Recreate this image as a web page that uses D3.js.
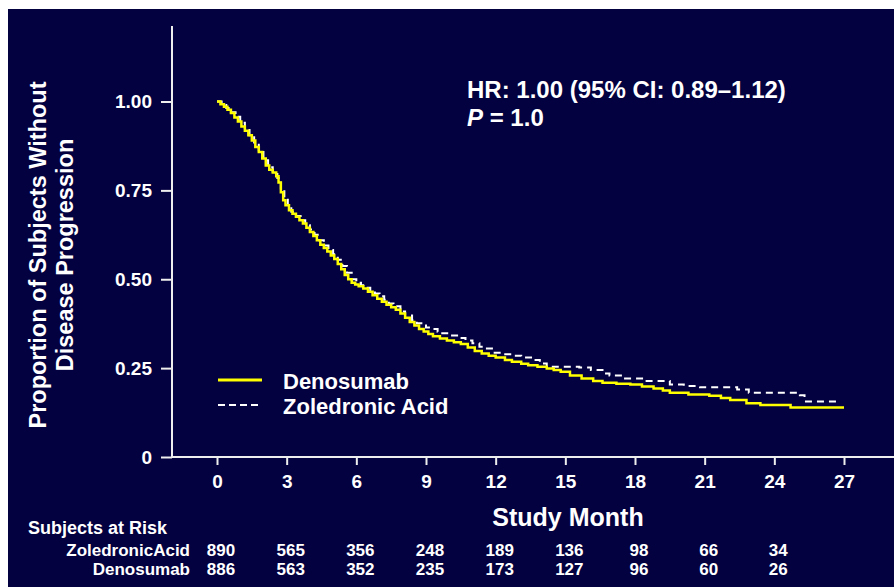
<!DOCTYPE html>
<html>
<head>
<meta charset="utf-8">
<script src="https://cdn.jsdelivr.net/npm/d3@7"></script>
<style>
  body { margin: 0; background: #ffffff; }
  text { font-family: "Liberation Sans", Arial, sans-serif; font-weight: bold; fill: #ffffff; }
</style>
</head>
<body>
<div id="chart"></div>
<script>
// KM curves (month, proportion)
var denoMonths = [0, 0.15, 0.3, 0.45, 0.6, 0.75, 0.9, 1.05, 1.2, 1.35, 1.5, 1.65, 1.8, 1.95, 2.1, 2.25, 2.4, 2.55, 2.65, 2.75, 2.85, 2.95, 3.1, 3.25, 3.4, 3.55, 3.7, 3.85, 4.0, 4.15, 4.3, 4.45, 4.6, 4.75, 4.9, 5.05, 5.2, 5.35, 5.5, 5.65, 5.8, 5.95, 6.1, 6.3, 6.5, 6.7, 6.9, 7.1, 7.3, 7.5, 7.7, 7.9, 8.1, 8.3, 8.5, 8.7, 8.9, 9.1, 9.3, 9.6, 9.9, 10.2, 10.5, 10.8, 11.1, 11.4, 11.7, 12.0, 12.4, 12.7, 13.1, 13.4, 13.8, 14.2, 14.5, 14.8, 15.2, 15.7, 16.2, 16.6, 17.2, 17.8, 18.3, 18.8, 19.2, 19.5, 20.3, 21.2, 21.7, 22.1, 22.8, 23.4, 24.7, 27.0];
var denoSurv = [1.000, 0.992, 0.985, 0.977, 0.968, 0.955, 0.944, 0.930, 0.918, 0.905, 0.890, 0.872, 0.858, 0.840, 0.820, 0.808, 0.800, 0.790, 0.772, 0.745, 0.722, 0.708, 0.694, 0.684, 0.676, 0.666, 0.657, 0.645, 0.633, 0.622, 0.610, 0.597, 0.588, 0.578, 0.567, 0.557, 0.543, 0.528, 0.512, 0.500, 0.490, 0.485, 0.480, 0.474, 0.465, 0.455, 0.445, 0.437, 0.428, 0.421, 0.414, 0.404, 0.392, 0.380, 0.370, 0.360, 0.353, 0.346, 0.340, 0.333, 0.328, 0.323, 0.318, 0.308, 0.298, 0.291, 0.285, 0.280, 0.273, 0.268, 0.262, 0.258, 0.254, 0.249, 0.245, 0.240, 0.229, 0.221, 0.214, 0.209, 0.206, 0.204, 0.198, 0.193, 0.187, 0.181, 0.176, 0.172, 0.166, 0.160, 0.151, 0.146, 0.139, 0.139];

var zaMonths = [0, 0.2, 0.4, 0.6, 0.8, 1.0, 1.2, 1.4, 1.6, 1.8, 2.0, 2.2, 2.4, 2.6, 2.75, 2.9, 3.05, 3.2, 3.4, 3.6, 3.8, 4.0, 4.2, 4.4, 4.6, 4.8, 5.0, 5.2, 5.4, 5.6, 5.8, 6.0, 6.2, 6.4, 6.6, 6.8, 7.0, 7.2, 7.4, 7.6, 7.9, 8.1, 8.4, 8.6, 8.8, 9.0, 9.2, 9.5, 9.7, 10.0, 10.4, 10.7, 11.0, 11.3, 11.5, 11.9, 12.3, 12.7, 13.1, 13.6, 13.9, 14.2, 15.6, 16.1, 16.6, 16.9, 17.5, 18.5, 19.5, 20.1, 20.8, 22.4, 22.9, 25.1, 25.3, 26.8];
var zaSurv = [1.000, 0.990, 0.982, 0.970, 0.957, 0.940, 0.925, 0.905, 0.885, 0.862, 0.835, 0.815, 0.803, 0.785, 0.755, 0.728, 0.705, 0.690, 0.678, 0.666, 0.652, 0.640, 0.625, 0.610, 0.595, 0.582, 0.570, 0.555, 0.537, 0.518, 0.500, 0.490, 0.483, 0.476, 0.468, 0.460, 0.452, 0.442, 0.432, 0.424, 0.409, 0.398, 0.385, 0.376, 0.370, 0.364, 0.360, 0.352, 0.348, 0.342, 0.335, 0.328, 0.320, 0.310, 0.305, 0.293, 0.289, 0.285, 0.280, 0.273, 0.263, 0.254, 0.252, 0.245, 0.235, 0.229, 0.221, 0.214, 0.204, 0.200, 0.196, 0.190, 0.181, 0.174, 0.156, 0.156];

var xTicks = [0, 3, 6, 9, 12, 15, 18, 21, 24, 27];
var yTicks = [0, 0.25, 0.5, 0.75, 1.0];
var yTickLabels = ["0", "0.25", "0.50", "0.75", "1.00"];

var riskMonths = [0, 3, 6, 9, 12, 15, 18, 21, 24];
var riskZA = [890, 565, 356, 248, 189, 136, 98, 66, 34];
var riskDeno = [886, 563, 352, 235, 173, 127, 96, 60, 26];

var width = 894;
var height = 587;
var navy = "#03013f";

var svg = d3.select("#chart")
  .append("svg")
  .attr("width", width)
  .attr("height", height);

// slide background (white sliver at top/left like the screenshot)
svg.append("rect")
  .attr("x", 8).attr("y", 9)
  .attr("width", width - 8).attr("height", height - 9)
  .attr("fill", navy);

var xscale = d3.scaleLinear().domain([0, 27]).range([217, 844]);
var yscale = d3.scaleLinear().domain([0, 1]).range([457, 101.5]);
var axisX = 172;

// y axis
var yAxis = d3.axisLeft(yscale)
  .tickValues(yTicks)
  .tickFormat(function(d, i) { return yTickLabels[i]; })
  .tickSize(11)
  .tickPadding(9);

var gy = svg.append("g")
  .attr("class", "yAxis")
  .attr("transform", "translate(" + axisX + ",0)")
  .call(yAxis);
gy.select(".domain").remove();
gy.selectAll("line").attr("stroke", "#eeeeee").attr("stroke-width", 2);
gy.selectAll("text").attr("font-size", 19).attr("fill", "#ffffff").attr("font-family", null);

svg.append("line")
  .attr("x1", axisX).attr("x2", axisX)
  .attr("y1", 26).attr("y2", yscale(0) + 1)
  .attr("stroke", "#eeeeee").attr("stroke-width", 2);

// x axis
var xAxis = d3.axisBottom(xscale)
  .tickValues(xTicks)
  .tickSize(8)
  .tickPadding(10);

var gx = svg.append("g")
  .attr("class", "xAxis")
  .attr("transform", "translate(0," + yscale(0) + ")")
  .call(xAxis);
gx.select(".domain").remove();
gx.selectAll("line").attr("stroke", "#eeeeee").attr("stroke-width", 2);
gx.selectAll("text").attr("font-size", 19).attr("fill", "#ffffff").attr("font-family", null);

svg.append("line")
  .attr("x1", axisX - 1).attr("x2", width)
  .attr("y1", yscale(0)).attr("y2", yscale(0))
  .attr("stroke", "#eeeeee").attr("stroke-width", 2);

// curves
var line = d3.line()
  .x(function(d) { return xscale(d[0]); })
  .y(function(d) { return yscale(d[1]); })
  .curve(d3.curveStepAfter);

var zaData = zaMonths.map(function(m, i) { return [m, zaSurv[i]]; });
var denoData = denoMonths.map(function(m, i) { return [m, denoSurv[i]]; });

svg.append("path")
  .datum(zaData)
  .attr("d", line)
  .attr("fill", "none")
  .attr("stroke", "#ffffff")
  .attr("stroke-width", 2)
  .attr("stroke-dasharray", "7,5");

svg.append("path")
  .datum(denoData)
  .attr("d", line)
  .attr("fill", "none")
  .attr("stroke", "#ffff00")
  .attr("stroke-width", 2.5);

// legend
svg.append("line")
  .attr("x1", 218).attr("x2", 262).attr("y1", 380).attr("y2", 380)
  .attr("stroke", "#ffff00").attr("stroke-width", 3);
svg.append("line")
  .attr("x1", 218).attr("x2", 262).attr("y1", 405).attr("y2", 405)
  .attr("stroke", "#ffffff").attr("stroke-width", 2).attr("stroke-dasharray", "7,4");
svg.append("text").attr("x", 283).attr("y", 389).attr("font-size", 22).text("Denosumab");
svg.append("text").attr("x", 283).attr("y", 414).attr("font-size", 22).text("Zoledronic Acid");

// HR annotation
svg.append("text").attr("x", 467).attr("y", 98).attr("font-size", 24)
  .text("HR: 1.00 (95% CI: 0.89\u20131.12)");
var pTxt = svg.append("text").attr("x", 467).attr("y", 126).attr("font-size", 24);
pTxt.append("tspan").attr("font-style", "italic").text("P");
pTxt.append("tspan").text(" = 1.0");

// axis titles
var ylab = svg.append("g")
  .attr("transform", "translate(0,255) rotate(-90)")
  .attr("text-anchor", "middle");
ylab.append("text").attr("x", 0).attr("y", 46).attr("font-size", 23.5).text("Proportion of Subjects Without");
ylab.append("text").attr("x", 0).attr("y", 73).attr("font-size", 23.5).text("Disease Progression");

svg.append("text")
  .attr("x", 568).attr("y", 526)
  .attr("text-anchor", "middle")
  .attr("font-size", 25)
  .text("Study Month");

// subjects at risk table
svg.append("text").attr("x", 28).attr("y", 534).attr("font-size", 18).text("Subjects at Risk");
svg.append("text").attr("x", 190).attr("y", 556).attr("font-size", 17).attr("text-anchor", "end").text("ZoledronicAcid");
svg.append("text").attr("x", 190).attr("y", 575).attr("font-size", 17).attr("text-anchor", "end").text("Denosumab");

svg.selectAll("text.riskZA")
  .data(riskZA).enter()
  .append("text")
  .attr("class", "riskZA")
  .attr("x", function(d, i) { return xscale(riskMonths[i]) + 4; })
  .attr("y", 556)
  .attr("text-anchor", "middle")
  .attr("font-size", 17)
  .text(function(d) { return d; });

svg.selectAll("text.riskDeno")
  .data(riskDeno).enter()
  .append("text")
  .attr("class", "riskDeno")
  .attr("x", function(d, i) { return xscale(riskMonths[i]) + 4; })
  .attr("y", 575)
  .attr("text-anchor", "middle")
  .attr("font-size", 17)
  .text(function(d) { return d; });
</script>
</body>
</html>
